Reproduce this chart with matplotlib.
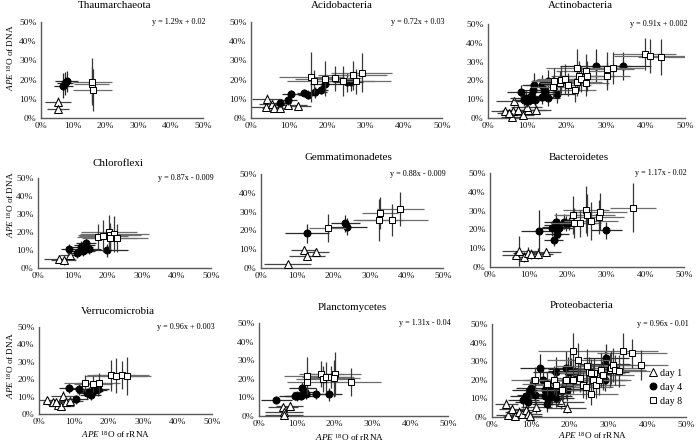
import matplotlib
matplotlib.use("Agg")
import matplotlib.pyplot as plt
from matplotlib.lines import Line2D

plt.rcParams['font.family'] = ['Liberation Serif', 'DejaVu Serif']
plt.rcParams['mathtext.fontset'] = 'custom'
plt.rcParams['mathtext.rm'] = 'Liberation Serif'
plt.rcParams['mathtext.it'] = 'Liberation Serif:italic'

# ---------------- data: (x %, y %, x error %, y error %) ----------------
THAUM_D1 = [(5.3, 8.1, 4.0, 3.0), (5.3, 4.7, 3.3, 2.0)]
THAUM_D4 = [(6.9, 16.7, 3.0, 6.5), (7.5, 18.1, 2.5, 6.0), (7.9, 19.1, 3.5, 5.5)]
THAUM_D8 = [(15.6, 17.5, 5.5, 9.0), (15.8, 19.0, 6.0, 12.0), (16.0, 14.7, 6.0, 11.0)]

ACIDO_D1 = [(4.2, 9.7, 4.0, 3.0), (4.0, 5.7, 4.0, 1.5), (5.5, 7.3, 3.5, 2.0), (5.9, 5.4, 3.0, 1.5),
            (7.5, 5.2, 3.0, 1.5), (9.6, 6.6, 5.0, 2.0), (12.3, 6.3, 3.5, 2.0)]
ACIDO_D4 = [(7.5, 7.8, 3.0, 2.0), (9.6, 9.5, 2.5, 2.5), (10.6, 12.7, 2.5, 2.0), (14.0, 13.2, 2.0, 2.0),
            (14.8, 12.2, 2.5, 2.5), (16.8, 13.4, 3.0, 3.0), (18.2, 14.8, 2.0, 2.5), (19.5, 17.9, 4.0, 4.0),
            (25.0, 18.6, 3.5, 5.0), (26.2, 18.6, 3.0, 4.5)]
ACIDO_D8 = [(15.8, 21.4, 8.5, 13.0), (16.4, 19.1, 7.0, 6.0), (19.5, 20.5, 8.0, 9.0), (21.9, 20.8, 7.0, 6.5),
            (24.1, 19.3, 8.0, 8.0), (26.6, 22.2, 9.0, 7.5), (27.6, 19.1, 9.0, 6.5), (29.0, 23.6, 8.0, 10.0)]

ACTINO_D1 = [(4.3, 3.9, 3.5, 2.0), (6.5, 8.9, 4.5, 2.5), (6.4, 3.9, 3.5, 2.0), (6.2, 0.3, 3.0, 2.0),
             (7.6, 4.4, 4.0, 2.5), (8.8, 1.8, 3.0, 2.0), (10.2, 4.4, 4.5, 2.5), (12.1, 4.4, 4.0, 2.5),
             (5.3, 2.7, 3.0, 2.0), (9.8, 5.9, 4.0, 3.0)]
ACTINO_D4 = [(8.3, 13.8, 3.5, 4.0), (9.1, 9.8, 3.0, 3.5), (9.7, 10.6, 4.0, 4.5), (10.6, 9.8, 3.5, 3.0),
             (11.0, 11.5, 3.0, 4.0), (11.4, 15.0, 3.5, 5.0), (11.6, 17.7, 3.0, 6.0), (11.9, 9.8, 2.5, 3.5),
             (13.6, 17.7, 4.0, 5.0), (13.8, 11.2, 3.0, 4.0), (14.2, 15.0, 3.5, 4.5), (14.5, 13.8, 3.0, 4.0),
             (15.3, 19.5, 4.0, 6.0), (15.3, 10.6, 3.0, 4.0), (17.6, 12.8, 4.5, 5.0), (27.3, 27.8, 9.0, 9.0),
             (34.3, 27.8, 7.0, 7.5), (9.9, 8.9, 3.0, 3.0)]
ACTINO_D8 = [(16.5, 16.5, 5.5, 6.0), (16.8, 19.5, 6.0, 7.0), (18.2, 18.6, 5.0, 6.5), (18.5, 20.4, 6.5, 7.0),
             (19.5, 20.9, 7.0, 8.0), (20.2, 17.7, 6.0, 6.0), (22.0, 15.0, 5.5, 6.5), (22.5, 19.1, 6.5, 7.5),
             (22.6, 26.6, 8.0, 10.0), (23.1, 22.5, 7.0, 8.0), (23.7, 20.7, 6.0, 7.0), (24.8, 24.8, 7.5, 9.0),
             (24.8, 18.6, 6.0, 7.0), (25.2, 22.5, 7.0, 8.0), (30.1, 22.2, 6.0, 7.5), (30.1, 26.1, 7.0, 9.0),
             (31.6, 26.6, 8.0, 8.5), (39.8, 34.0, 8.0, 8.5), (41.1, 33.2, 9.0, 9.0), (44.0, 32.4, 6.0, 9.5)]

CHLORO_D1 = [(6.1, 5.2, 4.5, 2.0), (7.4, 4.3, 3.5, 2.5), (9.3, 7.4, 3.0, 2.5)]
CHLORO_D4 = [(9.1, 10.4, 2.5, 3.0), (11.3, 8.3, 3.0, 2.5), (12.5, 11.7, 3.5, 3.5), (13.5, 12.6, 3.0, 3.0),
             (13.0, 9.3, 3.5, 2.5), (13.9, 13.9, 3.0, 3.0), (14.7, 10.7, 3.5, 3.0), (19.9, 9.8, 6.0, 3.5)]
CHLORO_D8 = [(17.3, 17.2, 6.0, 7.0), (18.9, 17.8, 7.0, 9.0), (20.5, 20.0, 8.0, 9.5), (20.7, 18.1, 9.0, 7.0),
             (22.1, 19.1, 10.0, 10.0), (22.8, 16.7, 9.0, 8.0), (20.7, 16.7, 8.0, 6.5)]

GEMMA_D1 = [(7.3, 2.3, 6.5, 1.0), (11.7, 9.8, 3.5, 2.0), (12.6, 6.3, 5.0, 2.0), (15.0, 8.6, 3.8, 2.0)]
GEMMA_D4 = [(12.6, 18.4, 6.0, 5.0), (23.1, 23.8, 4.0, 4.5), (23.5, 22.0, 5.5, 4.5)]
GEMMA_D8 = [(18.3, 21.4, 5.0, 7.5), (32.7, 29.5, 5.0, 8.5), (32.4, 25.5, 7.0, 11.0), (36.0, 25.5, 10.0, 8.5),
            (38.3, 31.3, 6.5, 9.0)]

BACT_D1 = [(6.7, 6.3, 3.5, 2.0), (7.6, 8.4, 4.5, 8.0), (8.7, 5.4, 3.0, 2.5), (9.9, 7.7, 4.0, 3.0),
           (10.6, 7.0, 3.5, 2.5), (12.3, 7.0, 4.0, 3.0), (14.4, 8.0, 4.0, 2.0)]
BACT_D4 = [(12.6, 19.3, 4.5, 11.0), (16.4, 14.6, 2.5, 3.5), (16.0, 20.5, 3.0, 4.0), (16.9, 24.1, 3.0, 4.5),
           (16.9, 21.4, 3.5, 4.0), (17.3, 17.3, 3.0, 3.5), (17.7, 20.5, 4.0, 5.0), (19.0, 24.1, 3.5, 4.0),
           (19.7, 23.2, 4.0, 4.0), (20.3, 23.2, 3.5, 3.5), (30.0, 19.6, 4.0, 4.5), (17.3, 22.3, 3.5, 4.0)]
BACT_D8 = [(21.4, 27.7, 5.0, 10.0), (21.6, 23.2, 6.0, 8.0), (23.2, 23.2, 5.5, 7.0), (24.7, 30.4, 6.0, 12.5),
           (25.1, 27.7, 7.0, 11.0), (26.0, 24.5, 7.0, 10.0), (28.1, 26.4, 6.5, 9.0), (28.4, 29.5, 7.0, 10.0),
           (36.9, 31.6, 6.0, 13.0)]

VERRU_D1 = [(2.4, 8.0, 2.5, 2.0), (4.1, 6.7, 3.0, 2.0), (5.5, 5.2, 3.0, 2.0), (6.5, 4.6, 3.5, 2.5),
            (7.0, 10.3, 3.5, 3.0), (7.9, 7.1, 3.5, 2.0), (9.1, 7.4, 3.5, 2.0), (4.8, 6.7, 2.5, 1.5)]
VERRU_D4 = [(8.7, 15.1, 3.0, 3.0), (10.8, 8.4, 3.5, 2.5), (11.6, 14.1, 3.5, 3.0), (13.9, 11.8, 3.0, 3.0),
            (14.9, 10.9, 3.0, 3.0), (15.5, 13.2, 3.0, 3.5), (16.2, 13.7, 3.5, 3.0), (17.1, 14.1, 3.0, 3.5),
            (14.5, 12.8, 3.5, 3.0)]
VERRU_D8 = [(13.2, 17.6, 6.0, 5.0), (15.7, 17.2, 5.5, 4.5), (17.4, 17.6, 6.0, 6.0), (20.8, 22.3, 7.0, 9.0),
            (22.2, 21.9, 9.0, 10.0), (23.9, 22.3, 8.0, 8.0), (25.3, 21.8, 7.0, 11.0)]

PLANC_D1 = [(6.3, 5.0, 4.0, 1.5), (6.6, 2.3, 5.0, 1.5), (6.6, 0.3, 5.0, 1.5), (8.1, 5.6, 3.5, 2.0)]
PLANC_D4 = [(4.6, 8.6, 4.0, 2.0), (9.4, 10.8, 4.0, 2.0), (10.1, 10.8, 3.5, 2.5), (11.2, 10.8, 4.0, 2.0),
            (11.5, 15.3, 3.5, 3.0), (12.1, 13.1, 3.0, 3.0), (12.5, 11.9, 3.5, 2.5), (15.0, 11.9, 3.0, 3.0),
            (18.5, 11.7, 3.5, 3.5)]
PLANC_D8 = [(12.7, 21.6, 6.0, 10.0), (12.8, 18.5, 5.5, 5.0), (16.5, 22.5, 6.0, 7.0), (16.8, 19.8, 7.0, 7.0),
            (17.8, 20.9, 6.5, 8.0), (19.1, 20.9, 6.0, 6.0), (20.0, 22.5, 7.0, 12.0), (19.8, 20.3, 7.0, 10.0),
            (24.3, 18.5, 8.0, 7.5)]

PROTEO_D1 = [(3.7, 7.2, 3.0, 2.5), (4.1, 0.9, 3.0, 2.0), (5.2, 4.5, 3.5, 2.5), (5.8, 0.4, 3.0, 2.0),
             (6.9, 2.7, 3.5, 2.5), (7.8, 1.4, 3.0, 2.0), (8.7, 4.0, 4.0, 2.5), (9.3, 1.4, 3.5, 2.0),
             (9.9, 0.4, 3.0, 2.0), (11.4, 5.4, 4.0, 3.0), (17.7, 8.1, 6.0, 4.0), (19.3, 4.9, 5.0, 3.0)]
PROTEO_D4 = [(8.0, 9.0, 4.0, 4.0), (8.7, 11.2, 4.0, 4.5), (9.7, 14.4, 4.5, 5.0), (10.1, 15.6, 4.0, 6.0),
             (9.3, 8.1, 3.5, 4.0), (11.0, 11.7, 4.5, 5.0), (12.3, 26.1, 5.0, 8.0), (13.1, 20.1, 5.0, 7.0),
             (13.6, 14.4, 4.0, 5.0), (13.6, 11.2, 4.5, 5.0), (14.2, 12.6, 4.0, 5.5), (14.4, 10.4, 5.0, 5.0),
             (14.8, 14.4, 4.5, 6.0), (15.3, 12.6, 4.0, 5.0), (15.5, 11.2, 5.0, 5.0), (14.2, 7.2, 4.0, 4.5),
             (16.6, 10.4, 4.5, 5.0), (16.7, 14.4, 5.0, 6.0), (16.6, 24.3, 6.0, 8.0), (18.3, 15.3, 5.5, 6.0),
             (19.0, 16.2, 5.0, 6.0), (19.1, 26.6, 6.0, 9.0), (19.6, 24.3, 6.0, 8.0), (20.0, 25.7, 5.5, 8.0),
             (20.4, 24.6, 6.0, 7.0), (19.0, 20.1, 5.0, 7.0), (20.0, 18.0, 5.5, 6.0), (21.3, 23.4, 6.0, 7.0),
             (19.3, 14.4, 5.0, 6.0), (29.4, 31.5, 6.0, 8.0), (29.0, 28.4, 6.5, 7.0), (29.4, 24.3, 6.0, 6.5),
             (29.2, 19.8, 5.5, 6.0)]
PROTEO_D8 = [(11.0, 20.1, 6.0, 7.0), (14.2, 18.0, 6.5, 6.0), (16.1, 20.1, 7.0, 7.5), (16.6, 17.4, 6.0, 6.0),
             (18.0, 14.7, 6.5, 6.0), (19.1, 19.8, 7.0, 7.0), (20.8, 35.4, 9.0, 10.0), (22.1, 30.6, 8.0, 9.0),
             (22.7, 20.7, 7.0, 7.0), (23.4, 17.4, 7.5, 7.0), (24.1, 16.2, 7.0, 6.5), (24.5, 27.3, 8.0, 9.0),
             (25.1, 24.3, 8.0, 8.0), (25.6, 12.6, 7.0, 6.0), (26.0, 20.1, 8.0, 8.0), (26.4, 23.7, 8.0, 8.0),
             (26.8, 17.4, 7.5, 7.0), (27.7, 19.8, 8.0, 8.0), (28.1, 25.2, 8.5, 9.0), (28.6, 22.5, 8.0, 8.0),
             (30.3, 25.2, 8.0, 9.0), (30.7, 26.6, 8.5, 9.0), (31.3, 27.9, 9.0, 9.0), (31.8, 25.2, 8.0, 8.0),
             (33.7, 35.4, 9.0, 10.0), (32.8, 24.8, 8.0, 8.5), (36.1, 34.2, 9.0, 8.0), (38.4, 27.9, 7.0, 8.0),
             (25.6, 23.4, 8.0, 8.0), (20.8, 19.8, 7.0, 7.0)]

TITLES = ["Thaumarchaeota", "Acidobacteria", "Actinobacteria",
          "Chloroflexi", "Gemmatimonadetes", "Bacteroidetes",
          "Verrucomicrobia", "Planctomycetes", "Proteobacteria"]
EQUATIONS = ["y = 1.29x + 0.02", "y = 0.72x + 0.03", "y = 0.91x + 0.002",
             "y = 0.87x - 0.009", "y = 0.88x - 0.009", "y = 1.17x - 0.02",
             "y = 0.96x + 0.003", "y = 1.31x - 0.04", "y = 0.96x - 0.01"]
SERIES = [(THAUM_D1, THAUM_D4, THAUM_D8), (ACIDO_D1, ACIDO_D4, ACIDO_D8), (ACTINO_D1, ACTINO_D4, ACTINO_D8),
          (CHLORO_D1, CHLORO_D4, CHLORO_D8), (GEMMA_D1, GEMMA_D4, GEMMA_D8), (BACT_D1, BACT_D4, BACT_D8),
          (VERRU_D1, VERRU_D4, VERRU_D8), (PLANC_D1, PLANC_D4, PLANC_D8), (PROTEO_D1, PROTEO_D4, PROTEO_D8)]
DAY_LABELS = ["day 1", "day 4", "day 8"]
TICKS = [0, 10, 20, 30, 40, 50]

# ---------------- layout (pixels) ----------------
W, H = 696, 448
# (x of 0%, x of 50%, y of 50%, y of 0%)
BOXES = [(41, 203, 22, 118), (251, 442, 22, 118), (488, 685, 24, 118),
         (38, 211, 178, 268), (261, 443, 174, 268), (490, 684, 173, 267),
         (39, 212, 327, 414), (259, 448, 323, 416), (492, 686, 324, 417)]
TITLE_POS = [(115, 6), (342, 6), (580, 6), (118, 163), (348, 158), (579, 157),
             (118, 312), (352, 308), (582, 305)]

MARKERS = [dict(marker='^', ms=5.6, mfc='white', mec='black'),
           dict(marker='o', ms=5.0, mfc='black', mec='black'),
           dict(marker='s', ms=5.0, mfc='white', mec='black')]
XECOL = ['#454545', '#2a2a2a', '#6e6e6e']
YECOL = ['#353535', '#2a2a2a', '#383838']

fig = plt.figure(figsize=(W / 100, H / 100), dpi=100)

for i, (box, title, eq, series) in enumerate(zip(BOXES, TITLES, EQUATIONS, SERIES)):
    x0, x50, y50, y0 = box
    ax = fig.add_axes([x0 / W, 1 - y0 / H, (x50 - x0) / W, (y0 - y50) / H])
    ax.set_xlim(0, 50)
    ax.set_ylim(0, 50)
    ax.set_xticks(TICKS)
    ax.set_yticks(TICKS)
    ax.set_xticklabels([f"{t}%" for t in TICKS])
    ax.set_yticklabels([f"{t}%" for t in TICKS])
    ax.tick_params(length=0, labelsize=6.8, pad=3, colors='#1a1a1a')
    for s in ['top', 'right']:
        ax.spines[s].set_visible(False)
    for s in ['left', 'bottom']:
        ax.spines[s].set_color('#5a5a5a')
        ax.spines[s].set_linewidth(1.0)
    for k, data in enumerate(series):
        xs = [d[0] for d in data]
        ys = [d[1] for d in data]
        xe = [d[2] for d in data]
        ye = [d[3] for d in data]
        ax.errorbar(xs, ys, xerr=xe, fmt='none', ecolor=XECOL[k], elinewidth=0.9,
                    capsize=0, zorder=2 + 2 * k)
        ax.errorbar(xs, ys, yerr=ye, fmt='none', ecolor=YECOL[k], elinewidth=0.9,
                    capsize=0, zorder=2 + 2 * k)
        ax.plot(xs, ys, linestyle='none', mew=0.75, zorder=3 + 2 * k, clip_on=False, **MARKERS[k])
    ax.text(1.015, 1.0, eq, transform=ax.transAxes, ha='right', va='center', fontsize=5.9)
    tx, ty = TITLE_POS[i]
    fig.text(tx / W, 1 - ty / H, title, ha='center', va='center', fontsize=7.9)

ylab = r"$\mathit{APE}$ $^{18}$O of DNA"
xlab = r"$\mathit{APE}$ $^{18}$O of rRNA"
for (lx, ly) in [(11, 58), (11, 205), (11, 366)]:
    fig.text(lx / W, 1 - ly / H, ylab, rotation=90, ha='center', va='center', fontsize=6.6)
for (lx, ly) in [(116, 434), (350, 437), (593, 435)]:
    fig.text(lx / W, 1 - ly / H, xlab, ha='center', va='center', fontsize=6.6)

handles = [Line2D([], [], linestyle='none', mew=0.7, **m) for m in MARKERS]
fig.legend(handles, DAY_LABELS, loc='center left', bbox_to_anchor=(644 / W, 1 - 387 / H),
           frameon=False, fontsize=7.2, handlelength=0.8, handletextpad=0.3,
           labelspacing=0.5, borderpad=0)

fig.savefig("out.png", dpi=100)
